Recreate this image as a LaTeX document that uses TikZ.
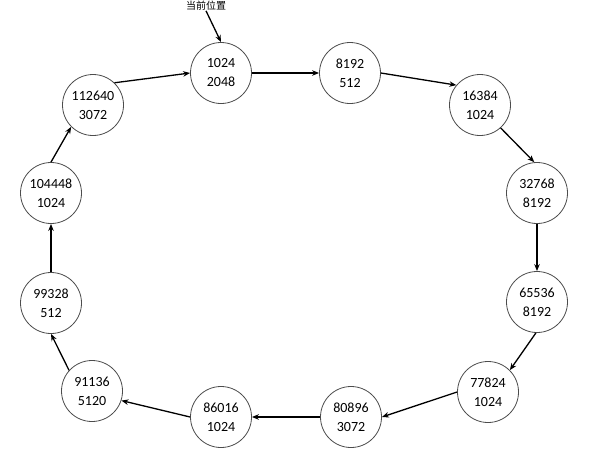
\documentclass[tikz,border=0pt]{standalone}
\usepackage{fontspec}
\setmainfont{Carlito}
\newfontfamily\cjk{Noto Sans CJK SC}
\usepackage{tikz}
\usetikzlibrary{arrows.meta,calc}
\newcommand{\ptrtip}{-{Stealth[length=7pt,width=5.5pt]}}
\tikzset{
    blk/.style={circle,draw=black!70,line width=0.8pt,minimum size=61pt,inner sep=0pt,align=center,font=\fontsize{14}{19}\selectfont}
}

\begin{document}
\begin{tikzpicture}[x=1pt,y=-1pt]
                \useasboundingbox (0,0) rectangle (604,450);
                \node[blk] (n1) at (221,73) {1024\\2048};
                \node[blk] (n2) at (350,73) {8192\\512};
                \node[blk] (n3) at (480,105) {16384\\1024};
                \node[blk] (n4) at (537,193) {32768\\8192};
                \node[blk] (n5) at (537,302) {65536\\8192};
                \node[blk] (n6) at (488,392) {77824\\1024};
                \node[blk] (n7) at (351,417) {80896\\3072};
                \node[blk] (n8) at (221,417) {86016\\1024};
                \node[blk] (n9) at (92,391) {91136\\5120};
                \node[blk] (n10) at (51,303) {99328\\512};
                \node[blk] (n11) at (51,193) {104448\\1024};
                \node[blk] (n12) at (93,105) {112640\\3072};
                \node[inner sep=0pt,font=\cjk\fontsize{10}{12}\selectfont] (cur) at (206,6) {当前位置};
                \draw[\ptrtip,line width=1.3pt] (cur.south) -- (n1.north);
                \foreach \a/\b in {n1.east/n2.west,n2.east/n3.140,n3.-48/n4.95,n4.south/n5.north,
                    n5.-92/n6.45,n6.west/n7.east,n7.west/n8.east,n8.west/n9.-18,
                    n9.138/n10.south,n10.north/n11.south,n11.north/n12.-135,n12.46/n1.west}
                    \draw[\ptrtip,line width=1.3pt] (\a) -- (\b);
            \end{tikzpicture}
\end{document}
